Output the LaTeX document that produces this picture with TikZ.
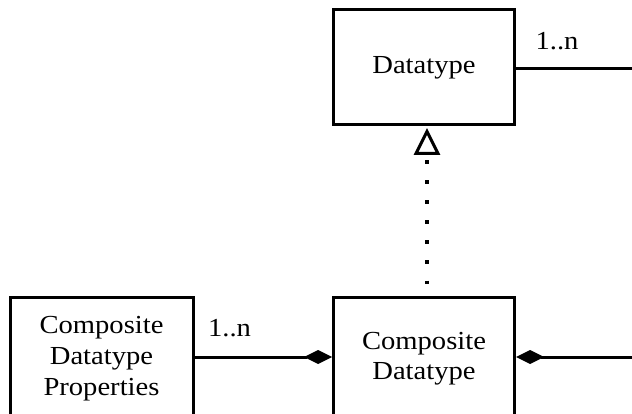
\documentclass[tikz,border=0pt]{standalone}
\usepackage{fontspec}
\setmainfont{Liberation Serif}[FakeStretch=1.1]
\usetikzlibrary{arrows.meta}
\begin{document}
\begin{tikzpicture}[x=1pt,y=-1pt,
  box/.style={draw,line width=3pt,rectangle,minimum width=181pt,minimum height=124pt,align=center,font=\fontsize{26}{31}\selectfont,inner sep=0pt},
  conn/.style={line width=3pt},
  lbl/.style={font=\fontsize{26}{31}\selectfont,inner sep=0pt},
  comp/.style={conn,-{Diamond[length=28pt,width=14pt]}}]
\useasboundingbox (0,0) rectangle (632,414);
\clip (0,0) rectangle (632,414);
\node[box,minimum height=115pt] (dt) at (424,67.5) {Datatype};
\node[box] (cd) at (424,359) {Composite\\[-1pt]Datatype};
\node[box,minimum width=183pt] (cdp) at (101.5,359) {Composite\\Datatype\\Properties};
\coordinate (r1) at (632,69);
\coordinate (r2) at (632,357);
\draw[conn] (dt.east |- r1) -- (r1);
\node[lbl] (l1) at ([xshift=41pt,yshift=26pt]dt.east) {1..n};
\draw[comp] (r2) -- (cd.east |- r2);
\draw[comp] (cdp.east |- r2) -- (cd.west |- r2);
\node[lbl] (l2) at ([xshift=35pt,yshift=29pt]cdp.east |- r2) {1..n};
\draw[line width=3pt] ([xshift=3pt,yshift=-5pt]dt.south) -- ([xshift=-8pt,yshift=-27pt]dt.south) -- ([xshift=14pt,yshift=-27pt]dt.south) -- cycle;
\draw[line width=3.4pt,dash pattern=on 3.4pt off 16.6pt] ([xshift=3pt,yshift=-34pt]dt.south) -- ([xshift=3pt,yshift=9pt]cd.north);
\end{tikzpicture}
\end{document}
